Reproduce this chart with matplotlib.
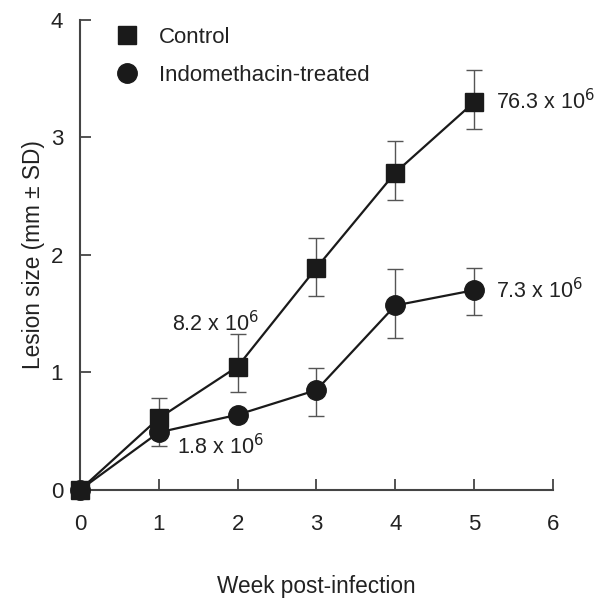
import matplotlib
matplotlib.use("Agg")
import matplotlib.pyplot as plt
from matplotlib.lines import Line2D

plt.rcParams['font.family'] = ['Liberation Sans', 'DejaVu Sans']

weeks = [0, 1, 2, 3, 4, 5]
control = [0.0, 0.61, 1.05, 1.89, 2.70, 3.30]
control_err_lo = [0.0, 0.0, 0.22, 0.24, 0.23, 0.23]
control_err_hi = [0.0, 0.17, 0.28, 0.25, 0.27, 0.27]
indo = [0.0, 0.49, 0.64, 0.85, 1.57, 1.70]
indo_err_lo = [0.0, 0.12, 0.0, 0.22, 0.28, 0.21]
indo_err_hi = [0.0, 0.0, 0.0, 0.19, 0.31, 0.19]
annotations = [(5, 3.30, "76.3 x 10$^6$"), (5, 1.70, "7.3 x 10$^6$"),
               (2, 1.05, "8.2 x 10$^6$"), (1, 0.49, "1.8 x 10$^6$")]

fig = plt.figure(figsize=(5.96, 5.99), dpi=100)
ax = fig.add_axes([0.134, 0.182, 0.794, 0.785])

ecol = '#555555'
ax.errorbar(weeks, indo, yerr=[indo_err_lo, indo_err_hi], fmt='none', ecolor=ecol,
            elinewidth=1.0, capsize=6, capthick=1.0, zorder=2)
ax.errorbar(weeks, control, yerr=[control_err_lo, control_err_hi], fmt='none', ecolor=ecol,
            elinewidth=1.0, capsize=6, capthick=1.0, zorder=2)
ax.plot(weeks, indo, color='#1a1a1a', lw=1.6, marker='o', ms=14, mfc='#1a1a1a', mec='#1a1a1a',
        zorder=3, clip_on=False)
ax.plot(weeks, control, color='#1a1a1a', lw=1.6, marker='s', ms=13, mfc='#1a1a1a', mec='#1a1a1a',
        zorder=4, clip_on=False)

fs_ann = 15.5
offsets = [(16, 0), (16, 0), (-47, 31), (13, -10)]
for (x, y, t), off in zip(annotations, offsets):
    ax.annotate(t, (x, y), xytext=off, textcoords='offset points', va='center', ha='left',
                fontsize=fs_ann, color='#222222')

ax.set_xlim(0, 6.0)
ax.set_ylim(0, 4.0)
ax.set_xticks(range(7))
ax.set_yticks(range(5))
ax.spines['top'].set_visible(False)
ax.spines['right'].set_visible(False)
for s in ['left', 'bottom']:
    ax.spines[s].set_color('#444444')
    ax.spines[s].set_linewidth(1.5)
ax.tick_params(direction='in', length=8, width=1.3, color='#444444', labelsize=16,
               labelcolor='#222222')
ax.tick_params(axis='x', pad=17)
ax.tick_params(axis='y', pad=12)
ax.set_xlabel('Week post-infection', fontsize=16.3, color='#222222', labelpad=29)
ax.set_ylabel('Lesion size (mm ± SD)', fontsize=16.3, color='#222222', labelpad=4)

handles = [Line2D([], [], ls='none', marker='s', ms=13, color='#1a1a1a'),
           Line2D([], [], ls='none', marker='o', ms=14, color='#1a1a1a')]
ax.legend(handles, ['Control', 'Indomethacin-treated'], loc='upper left',
          bbox_to_anchor=(0.01, 1.027), frameon=False, fontsize=16, handletextpad=0.45,
          labelspacing=0.75, labelcolor='#222222')

fig.savefig('out.png', dpi=100)
